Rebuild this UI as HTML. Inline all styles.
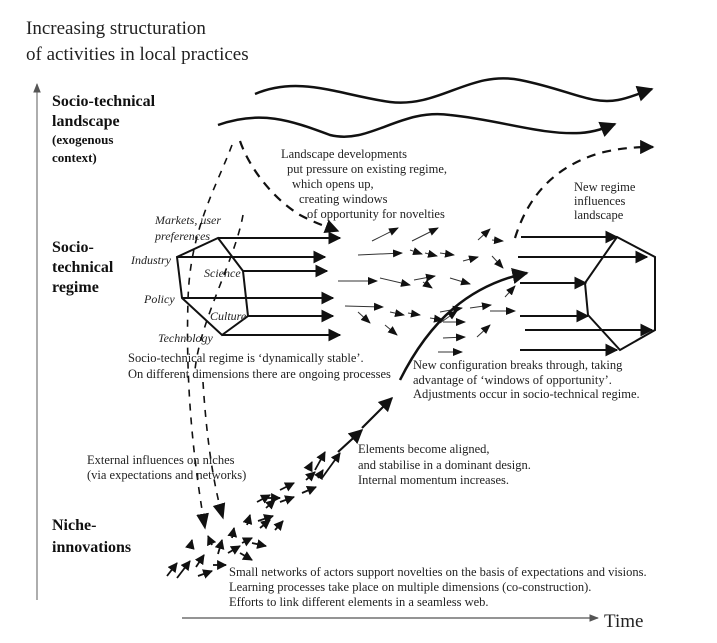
<!DOCTYPE html>
<html><head><meta charset="utf-8"><style>
html,body{margin:0;padding:0;background:#fff}
svg{display:block}
text{font-family:"Liberation Serif",serif;fill:#222}
.b{font-weight:bold;fill:#111}
.it{font-style:italic;font-size:12px}
.t{font-size:12.5px}
</style></head><body>
<svg width="717" height="643" viewBox="0 0 717 643" xmlns="http://www.w3.org/2000/svg">
<defs>
<marker id="a" viewBox="0 0 10 10" refX="9" refY="5" markerWidth="6.5" markerHeight="6.5" orient="auto" markerUnits="strokeWidth"><path d="M0,0L10,5L0,10z" fill="#111"/></marker>
<marker id="n" viewBox="0 0 10 10" refX="9" refY="5" markerWidth="5.5" markerHeight="5.5" orient="auto" markerUnits="strokeWidth"><path d="M0,0L10,5L0,10z" fill="#111"/></marker>
<marker id="s" viewBox="0 0 10 10" refX="9" refY="5" markerWidth="10" markerHeight="10" orient="auto" markerUnits="strokeWidth"><path d="M0,1L10,5L0,9z" fill="#111"/></marker>
<marker id="g" viewBox="0 0 10 10" refX="9" refY="5" markerWidth="8" markerHeight="8" orient="auto" markerUnits="strokeWidth"><path d="M0,1L10,5L0,9z" fill="#555"/></marker>
</defs>
<text x="26" y="34" font-size="19">Increasing structuration</text>
<text x="26" y="60" font-size="19">of activities in local practices</text>
<line x1="37" y1="600" x2="37" y2="84" stroke="#777" stroke-width="1.2" marker-end="url(#g)"/>
<line x1="182" y1="618" x2="598" y2="618" stroke="#555" stroke-width="1.2" marker-end="url(#g)"/>
<text x="604" y="627" font-size="19">Time</text>
<text x="52" y="106" class="b" font-size="16">Socio-technical</text>
<text x="52" y="126" class="b" font-size="16">landscape</text>
<text x="52" y="144" class="b" font-size="13">(exogenous</text>
<text x="52" y="162" class="b" font-size="13">context)</text>
<text x="52" y="252" class="b" font-size="16">Socio-</text>
<text x="52" y="272" class="b" font-size="16">technical</text>
<text x="52" y="292" class="b" font-size="16">regime</text>
<text x="52" y="530" class="b" font-size="16">Niche-</text>
<text x="52" y="552" class="b" font-size="16">innovations</text>
<g fill="none" stroke="#111" stroke-width="2.5">
<path d="M255,94 C300,75 340,95 390,102 C440,108 470,70 520,80 C570,90 590,105 618,100 C630,98 640,93 652,89" marker-end="url(#a)"/>
<path d="M218,125 C260,110 290,120 330,135 C370,145 400,108 450,115 C500,120 540,135 580,133 C595,132 605,128 615,124" marker-end="url(#a)"/>
</g>
<g fill="none" stroke="#111" stroke-width="2.2" stroke-dasharray="9,7">
<path d="M515,238 C530,190 560,165 600,153 C620,148 635,147 653,147" marker-end="url(#a)"/>
<path d="M240,141 C250,170 275,200 300,215 C315,223 325,226 338,231" marker-end="url(#a)"/>
</g>
<g fill="none" stroke="#111" stroke-width="1.6" stroke-dasharray="7,7">
<path d="M232,145 C215,190 190,230 188,300 C186,370 190,440 205,528" marker-end="url(#s)"/>
<path d="M203,382 C206,430 212,480 223,518" marker-end="url(#s)"/>
<path d="M243,215 C235,260 200,320 195,370"/>
</g>
<g fill="none" stroke="#111" stroke-width="2">
<path d="M218,238 L243,271 L248,316 L222,335 L182,298 L177,257 Z"/>
<path d="M617,237 L655,257 L655,330 L620,350 L588,315 L585,283 Z"/>
</g>
<g stroke="#111" stroke-width="2" marker-end="url(#a)">
<line x1="218" y1="238" x2="340" y2="238"/>
<line x1="177" y1="257" x2="325" y2="257"/>
<line x1="243" y1="271" x2="327" y2="271"/>
<line x1="182" y1="298" x2="333" y2="298"/>
<line x1="248" y1="316" x2="333" y2="316"/>
<line x1="222" y1="335" x2="340" y2="335"/>
<line x1="521" y1="237" x2="617" y2="237"/>
<line x1="518" y1="257" x2="647" y2="257"/>
<line x1="520" y1="283" x2="586" y2="283"/>
<line x1="520" y1="316" x2="588" y2="316"/>
<line x1="525" y1="330" x2="652" y2="330"/>
<line x1="520" y1="350" x2="617" y2="350"/>
</g>
<g stroke="#333" stroke-width="1" marker-end="url(#s)">
<line x1="372" y1="241" x2="398" y2="228"/>
<line x1="412" y1="241" x2="438" y2="228"/>
<line x1="358" y1="255" x2="402" y2="253"/>
<line x1="410" y1="250" x2="422" y2="254"/>
<line x1="425" y1="253" x2="437" y2="256"/>
<line x1="440" y1="253" x2="454" y2="255"/>
<line x1="463" y1="261" x2="478" y2="257"/>
<line x1="478" y1="240" x2="490" y2="229"/>
<line x1="492" y1="240" x2="503" y2="241"/>
<line x1="492" y1="256" x2="503" y2="268"/>
<line x1="338" y1="281" x2="377" y2="281"/>
<line x1="380" y1="278" x2="410" y2="285"/>
<line x1="414" y1="280" x2="435" y2="276"/>
<line x1="423" y1="282" x2="432" y2="288"/>
<line x1="450" y1="278" x2="470" y2="284"/>
<line x1="345" y1="306" x2="383" y2="307"/>
<line x1="358" y1="312" x2="370" y2="323"/>
<line x1="390" y1="312" x2="404" y2="315"/>
<line x1="408" y1="313" x2="420" y2="315"/>
<line x1="430" y1="318" x2="443" y2="320"/>
<line x1="440" y1="312" x2="462" y2="308"/>
<line x1="470" y1="308" x2="491" y2="305"/>
<line x1="490" y1="311" x2="515" y2="311"/>
<line x1="440" y1="323" x2="457" y2="311"/>
<line x1="443" y1="322" x2="465" y2="322"/>
<line x1="385" y1="325" x2="397" y2="335"/>
<line x1="443" y1="338" x2="465" y2="337"/>
<line x1="438" y1="352" x2="462" y2="352"/>
<line x1="477" y1="337" x2="490" y2="325"/>
<line x1="505" y1="297" x2="515" y2="286"/>
</g>
<path d="M400,380 C430,320 470,285 527,273" fill="none" stroke="#111" stroke-width="2.5" marker-end="url(#a)"/>
<g stroke="#111" stroke-width="2.2" marker-end="url(#a)">
<line x1="338" y1="452" x2="362" y2="430"/>
<line x1="362" y1="428" x2="392" y2="398"/>
</g>
<g stroke="#111" stroke-width="1.8" marker-end="url(#n)">
<line x1="167" y1="576" x2="177" y2="563"/>
<line x1="177" y1="578" x2="190" y2="561"/>
<line x1="196" y1="567" x2="204" y2="555"/>
<line x1="198" y1="576" x2="212" y2="571"/>
<line x1="213" y1="565" x2="226" y2="565"/>
<line x1="190" y1="548" x2="192" y2="540"/>
<line x1="212" y1="545" x2="208" y2="536"/>
<line x1="218" y1="554" x2="222" y2="540"/>
<line x1="228" y1="553" x2="240" y2="546"/>
<line x1="232" y1="538" x2="234" y2="528"/>
<line x1="242" y1="543" x2="252" y2="538"/>
<line x1="240" y1="553" x2="252" y2="560"/>
<line x1="252" y1="543" x2="266" y2="546"/>
<line x1="247" y1="525" x2="250" y2="515"/>
<line x1="260" y1="528" x2="270" y2="520"/>
<line x1="258" y1="521" x2="273" y2="516"/>
<line x1="275" y1="530" x2="283" y2="521"/>
<line x1="257" y1="502" x2="270" y2="495"/>
<line x1="268" y1="498" x2="280" y2="498"/>
<line x1="266" y1="508" x2="275" y2="500"/>
<line x1="280" y1="502" x2="294" y2="497"/>
<line x1="280" y1="490" x2="294" y2="483"/>
<line x1="302" y1="493" x2="316" y2="487"/>
<line x1="306" y1="480" x2="315" y2="472"/>
<line x1="308" y1="470" x2="312" y2="462"/>
<line x1="318" y1="478" x2="323" y2="470"/>
<line x1="315" y1="470" x2="325" y2="452"/>
<line x1="322" y1="478" x2="340" y2="453"/>
</g>
<text x="281" y="158" class="t">Landscape  developments</text>
<text x="287" y="173" class="t">put pressure on existing regime,</text>
<text x="292" y="188" class="t">which opens up,</text>
<text x="299" y="203" class="t">creating windows</text>
<text x="307" y="218" class="t">of opportunity for novelties</text>
<text x="574" y="191" class="t">New  regime</text>
<text x="574" y="205" class="t">influences</text>
<text x="574" y="219" class="t">landscape</text>
<text x="155" y="224" class="it">Markets, user</text>
<text x="155" y="240" class="it">preferences</text>
<text x="131" y="264" class="it">Industry</text>
<text x="204" y="277" class="it">Science</text>
<text x="144" y="303" class="it">Policy</text>
<text x="210" y="320" class="it">Culture</text>
<text x="158" y="342" class="it">Technology</text>
<text x="128" y="362" class="t">Socio-technical regime  is ‘dynamically stable’.</text>
<text x="128" y="378" class="t">On different dimensions there are ongoing processes</text>
<text x="413" y="369" class="t">New configuration breaks through, taking</text>
<text x="413" y="384" class="t">advantage of ‘windows of opportunity’.</text>
<text x="413" y="398" class="t">Adjustments occur in socio-technical regime.</text>
<text x="87" y="464" class="t">External influences on niches</text>
<text x="87" y="479" class="t">(via expectations and networks)</text>
<text x="358" y="453" class="t">Elements become aligned,</text>
<text x="358" y="469" class="t">and stabilise in a dominant design.</text>
<text x="358" y="484" class="t">Internal momentum increases.</text>
<text x="229" y="576" class="t">Small networks of actors support novelties on the basis of expectations and visions.</text>
<text x="229" y="591" class="t">Learning processes take place on multiple dimensions (co-construction).</text>
<text x="229" y="606" class="t">Efforts to link different elements in a seamless web.</text>
</svg>
</body></html>
